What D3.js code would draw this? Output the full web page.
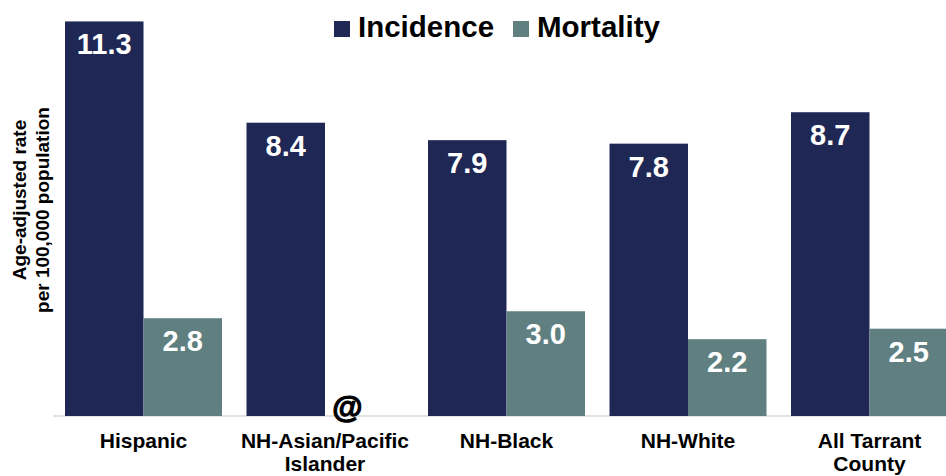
<!DOCTYPE html>
<html>
<head>
<meta charset="utf-8">
<script src="https://cdn.jsdelivr.net/npm/d3@7"></script>
<style>
  html, body { margin: 0; padding: 0; background: #fff; }
  svg { display: block; font-family: "Liberation Sans", Arial, sans-serif; font-weight: bold; }
</style>
</head>
<body>
<svg id="chart"></svg>
<script>
const categories = [["Hispanic"], ["NH-Asian/Pacific", "Islander"], ["NH-Black"], ["NH-White"], ["All Tarrant", "County"]];
const seriesNames = ["Incidence", "Mortality"];
const incidence = [11.3, 8.4, 7.9, 7.8, 8.7];
const mortality = [2.8, null, 3.0, 2.2, 2.5];   // null = suppressed, shown as "@"
const colors = ["#1f2855", "#5f7f81"];

const width = 946, height = 476;
const svg = d3.select("#chart").attr("width", width).attr("height", height);

const keys = categories.map(c => c.join(" "));
const x0 = d3.scaleBand().domain(keys).range([65, 948]).paddingInner(0.135).paddingOuter(0);
const x1 = d3.scaleBand().domain(seriesNames).range([0, x0.bandwidth()]);
const y = d3.scaleLinear().domain([0, 12]).range([416, -3]);

const rows = keys.map((k, i) => ({ key: k, values: [incidence[i], mortality[i]] }));

// baseline
svg.append("line")
  .attr("x1", 53).attr("x2", width)
  .attr("y1", y(0)).attr("y2", y(0))
  .attr("stroke", "#d9d9d9").attr("stroke-width", 1.5);

const group = svg.selectAll(".grp")
  .data(rows)
  .enter().append("g")
  .attr("class", "grp")
  .attr("transform", d => `translate(${x0(d.key)},0)`);

const cells = group.selectAll(".cell")
  .data(d => d.values.map((v, j) => ({ series: seriesNames[j], j: j, v: v })))
  .enter().append("g");

cells.filter(d => d.v != null).append("rect")
  .attr("x", d => x1(d.series))
  .attr("y", d => y(d.v))
  .attr("width", x1.bandwidth())
  .attr("height", d => y(0) - y(d.v))
  .attr("fill", d => colors[d.j]);

cells.filter(d => d.v != null).append("text")
  .attr("x", d => x1(d.series) + x1.bandwidth() / 2)
  .attr("y", d => y(d.v) + 33)
  .attr("text-anchor", "middle")
  .attr("fill", "#fff")
  .attr("font-size", 29)
  .text(d => d3.format(".1f")(d.v));

// suppressed value marker
cells.filter(d => d.v == null).append("text")
  .attr("x", d => x1(d.series) + x1.bandwidth() / 2 - 17)
  .attr("y", y(0) + 2)
  .attr("text-anchor", "middle")
  .attr("fill", "#000")
  .attr("stroke", "#000")
  .attr("stroke-width", 1.2)
  .attr("font-size", 31)
  .text("@");

// category labels
const labels = svg.selectAll(".cat")
  .data(categories)
  .enter().append("text")
  .attr("class", "cat")
  .attr("x", (d, i) => x0(keys[i]) + x0.bandwidth() / 2)
  .attr("y", 448)
  .attr("text-anchor", "middle")
  .attr("font-size", 21)
  .attr("fill", "#000");
labels.selectAll("tspan")
  .data(d => d)
  .enter().append("tspan")
  .attr("x", function () { return this.parentNode.getAttribute("x"); })
  .attr("dy", (d, i) => i === 0 ? 0 : 22.5)
  .text(d => d);

// y axis title
const yTitle = [["Age-adjusted rate", 26, 200], ["per 100,000 population", 49, 210]];
svg.selectAll(".ytitle")
  .data(yTitle)
  .enter().append("text")
  .attr("class", "ytitle")
  .attr("transform", d => `translate(${d[1]},${d[2]}) rotate(-90)`)
  .attr("text-anchor", "middle")
  .attr("font-size", 19)
  .attr("fill", "#000")
  .text(d => d[0]);

// legend
const legendX = [334, 513];
const legend = svg.selectAll(".leg")
  .data(seriesNames)
  .enter().append("g")
  .attr("class", "leg")
  .attr("transform", (d, i) => `translate(${legendX[i]},21)`);
legend.append("rect")
  .attr("width", 16).attr("height", 16)
  .attr("fill", (d, i) => colors[i]);
legend.append("text")
  .attr("x", 24).attr("y", 15.5)
  .attr("font-size", 29.5)
  .attr("fill", "#000")
  .text(d => d);
</script>
</body>
</html>
